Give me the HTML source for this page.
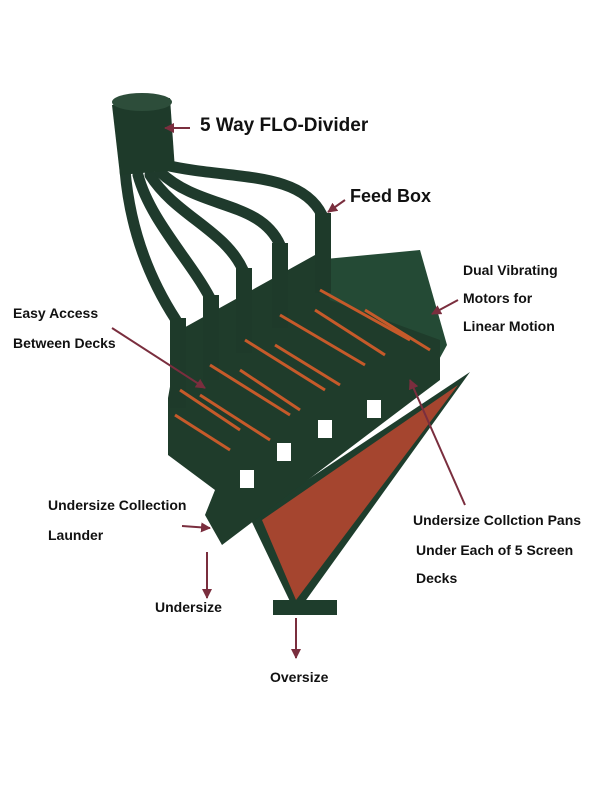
<!DOCTYPE html>
<html><head><style>
html,body{margin:0;padding:0;background:#fff;}
.t{font-family:"Liberation Sans",Arial,sans-serif;font-weight:bold;fill:#111;}
</style></head><body>
<svg width="600" height="800" viewBox="0 0 600 800" xmlns="http://www.w3.org/2000/svg">
<rect width="600" height="800" fill="#fff"/>
<defs><marker id="a" viewBox="0 0 10 10" refX="9" refY="5" markerWidth="5" markerHeight="5" orient="auto"><path d="M0,0L10,5L0,10z" fill="#7a2e3e"/></marker></defs>
<!-- hoses -->
<g fill="none" stroke="#1f3a2c" stroke-width="11" stroke-linecap="round">
<path d="M125,170 C130,230 150,280 176,320"/>
<path d="M138,175 C150,220 190,260 210,298"/>
<path d="M150,175 C175,215 225,230 243,270"/>
<path d="M160,172 C200,210 260,200 280,245"/>
<path d="M165,165 C230,180 300,170 322,215"/>
</g>
<!-- divider -->
<path d="M112,105 L170,98 L175,170 L120,175 Z" fill="#1e3a2a"/>
<ellipse cx="142" cy="102" rx="30" ry="9" fill="#2d4d3a"/>
<!-- triangle -->
<path d="M250,518 L470,372 L296,614 Z" fill="#1e3d2c"/>
<path d="M262,520 L458,385 L296,600 Z" fill="#a5452f"/>
<path d="M273,600 L337,600 L337,615 L273,615 Z" fill="#1e3d2c"/>
<!-- feed box / hopper -->
<path d="M315,260 L420,250 L447,345 L425,385 L330,320 Z" fill="#244a35"/>
<!-- deck body -->
<path d="M168,398 L180,330 L315,255 L330,300 L440,340 L440,380 L420,395 L255,520 L222,545 L205,515 L215,490 L168,455 Z" fill="#1f3c2b"/>
<!-- uprights -->
<g fill="#1e3a2a">
<rect x="170" y="318" width="16" height="90"/>
<rect x="203" y="295" width="16" height="85"/>
<rect x="236" y="268" width="16" height="85"/>
<rect x="272" y="243" width="16" height="85"/>
<rect x="315" y="213" width="16" height="80"/>
</g>
<!-- orange stripes -->
<g stroke="#c65a2a" stroke-width="3">
<line x1="180" y1="390" x2="240" y2="430"/><line x1="175" y1="415" x2="230" y2="450"/>
<line x1="210" y1="365" x2="290" y2="415"/><line x1="200" y1="395" x2="270" y2="440"/>
<line x1="245" y1="340" x2="325" y2="390"/><line x1="240" y1="370" x2="300" y2="410"/>
<line x1="280" y1="315" x2="365" y2="365"/><line x1="275" y1="345" x2="340" y2="385"/>
<line x1="320" y1="290" x2="410" y2="340"/><line x1="315" y1="310" x2="385" y2="355"/>
<line x1="365" y1="310" x2="430" y2="350"/>
</g>
<!-- windows -->
<g fill="#fff">
<rect x="240" y="470" width="14" height="18"/><rect x="277" y="443" width="14" height="18"/>
<rect x="318" y="420" width="14" height="18"/><rect x="367" y="400" width="14" height="18"/>
</g>
<!-- arrows -->
<g stroke="#7a2e3e" stroke-width="2" fill="none" marker-end="url(#a)">
<line x1="190" y1="128" x2="165" y2="128"/>
<line x1="345" y1="200" x2="328" y2="212"/>
<line x1="458" y1="300" x2="432" y2="314"/>
<line x1="112" y1="328" x2="205" y2="388"/>
<line x1="465" y1="505" x2="410" y2="380"/>
<line x1="182" y1="526" x2="210" y2="528"/>
<line x1="207" y1="552" x2="207" y2="598"/>
<line x1="296" y1="618" x2="296" y2="658"/>
</g>
<!-- labels -->
<text class="t" x="200" y="131" font-size="19">5  Way FLO-Divider</text>
<text class="t" x="350" y="202" font-size="18">Feed Box</text>
<text class="t" x="463" y="275" font-size="14">Dual Vibrating</text>
<text class="t" x="463" y="303" font-size="14">Motors for</text>
<text class="t" x="463" y="331" font-size="14">Linear Motion</text>
<text class="t" x="13" y="318" font-size="14">Easy Access</text>
<text class="t" x="13" y="348" font-size="14">Between Decks</text>
<text class="t" x="48" y="510" font-size="14">Undersize Collection</text>
<text class="t" x="48" y="540" font-size="14">Launder</text>
<text class="t" x="413" y="525" font-size="14">Undersize Collction Pans</text>
<text class="t" x="416" y="555" font-size="14">Under Each of 5 Screen</text>
<text class="t" x="416" y="583" font-size="14">Decks</text>
<text class="t" x="155" y="612" font-size="14">Undersize</text>
<text class="t" x="270" y="682" font-size="14">Oversize</text>
</svg>
</body></html>
